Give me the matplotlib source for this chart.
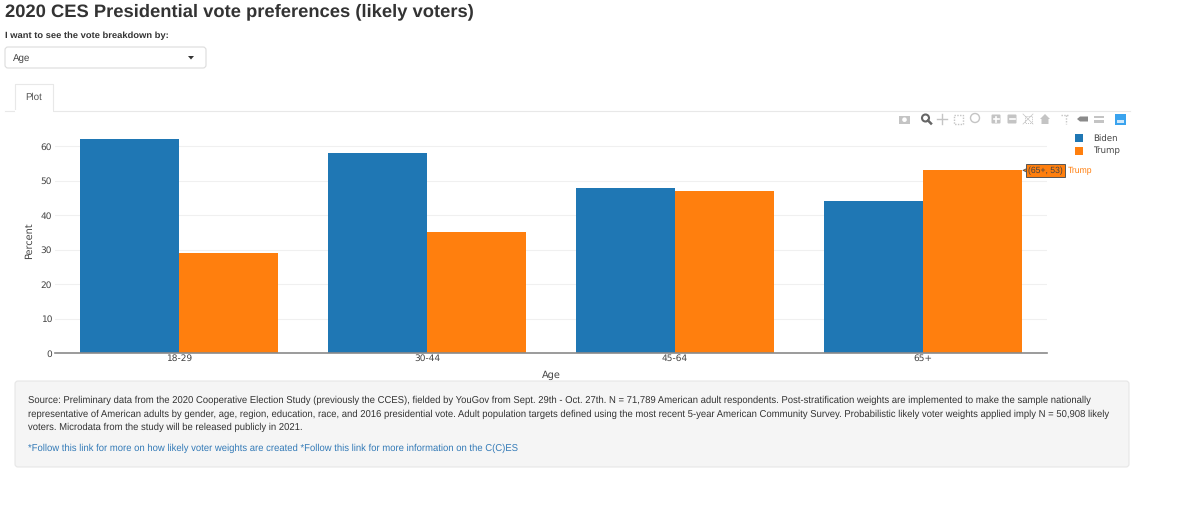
import matplotlib
matplotlib.use("Agg")
import matplotlib.pyplot as plt
from matplotlib.patches import Rectangle, FancyBboxPatch, Polygon, Circle
import numpy as np

plt.rcParams["text.hinting"] = "no_hinting"

W, H = 1200, 523

ages = ["18-29", "30-44", "45-64", "65+"]
biden = [62, 58, 48, 44]
trump = [29, 35, 47, 53]
y_ticks = [0, 10, 20, 30, 40, 50, 60]

title = "2020 CES Presidential vote preferences (likely voters)"
source_lines = [
    "Source: Preliminary data from the 2020 Cooperative Election Study (previously the CCES), fielded by YouGov from Sept. 29th - Oct. 27th. N = 71,789 American adult respondents. Post-stratification weights are implemented to make the sample nationally",
    "representative of American adults by gender, age, region, education, race, and 2016 presidential vote. Adult population targets defined using the most recent 5-year American Community Survey. Probabilistic likely voter weights applied imply N = 50,908 likely",
    "voters. Microdata from the study will be released publicly in 2021.",
]
link_text = "*Follow this link for more on how likely voter weights are created *Follow this link for more information on the C(C)ES"

BLUE = "#1f77b4"
ORANGE = "#ff7f0e"
UI_FONT = "Liberation Sans"
PLOT_FONT = "DejaVu Sans"

fig = plt.figure(figsize=(W / 100, H / 100), dpi=100, facecolor="white")

# page layer in pixel coordinates, y going down like the screenshot
page = fig.add_axes([0, 0, 1, 1])
page.set_xlim(0, W)
page.set_ylim(H, 0)
page.axis("off")

page.text(5, 12, title, fontsize=13.2, family=UI_FONT, weight="bold", color="#333333", va="center")
page.text(5, 36, "I want to see the vote breakdown by:", fontsize=6.75, family=UI_FONT, weight="bold", color="#333333", va="center")

# dropdown
page.add_patch(FancyBboxPatch((5, 47), 201, 21, boxstyle="round,pad=0,rounding_size=3", fc="white", ec="#dcdcdc", lw=0.8))
page.text(13, 58, "Age", fontsize=7.0, family=UI_FONT, color="#444444", va="center")
page.add_patch(Polygon([[188, 56], [194, 56], [191, 59.5]], fc="#333333", ec="none"))

# tab
page.plot([5, 15, 15, 53, 53, 1130], [110.5, 110.5, 84, 84, 110.5, 110.5], color="#e8e8e8", lw=0.8)
page.plot([16, 52], [110.5, 110.5], color="white", lw=1.5)
page.text(34, 97, "Plot", fontsize=7.0, family=UI_FONT, color="#555555", ha="center", va="center")

# modebar
GREY = "#c4c4c4"
page.add_patch(Rectangle((899, 116), 11, 7.5, fc=GREY, ec="none"))
page.add_patch(Circle((904.5, 119.7), 2.3, fc="white", ec="none"))
page.add_patch(Circle((925.5, 118), 3.5, fc="white", ec="#666666", lw=1.5))
page.plot([928, 931], [120.5, 123.5], color="#666666", lw=1.8)
page.plot([937, 947], [119, 119], color=GREY, lw=1)
page.plot([942, 942], [114, 124], color=GREY, lw=1)
page.add_patch(Rectangle((953.5, 114.5), 9.5, 9.5, fc="none", ec=GREY, lw=1, ls=(0, (1, 1))))
page.add_patch(Circle((975, 118), 4.5, fc="none", ec=GREY, lw=1))
for x0, sign in [(996, "+"), (1012, "-")]:
    page.add_patch(FancyBboxPatch((x0 - 4.5, 114.5), 9, 9, boxstyle="round,pad=0,rounding_size=1", fc=GREY, ec="none"))
    page.plot([x0 - 2.5, x0 + 2.5], [119, 119], color="white", lw=1.2)
    if sign == "+":
        page.plot([x0, x0], [116.5, 121.5], color="white", lw=1.2)
page.add_patch(Rectangle((1024.5, 115.5), 7, 7, fc="none", ec=GREY, lw=0.7, ls=(0, (1, 1))))
page.plot([1023, 1033], [114, 124], color=GREY, lw=0.5)
page.plot([1023, 1033], [124, 114], color=GREY, lw=0.5)
page.add_patch(Polygon([[1040, 119], [1045, 114], [1050, 119], [1048.5, 119], [1048.5, 124], [1041.5, 124], [1041.5, 119]], fc=GREY, ec="none"))
page.plot([1061, 1069], [115, 115], color=GREY, lw=1, ls=(0, (1, 1)))
page.plot([1066, 1066], [115, 124], color=GREY, lw=1, ls=(0, (1, 1)))
page.add_patch(Polygon([[1077, 119], [1080, 116.5], [1088, 116.5], [1088, 121.5], [1080, 121.5]], fc="#8a8a8a", ec="none"))
page.add_patch(Rectangle((1094, 115.5), 10, 2.8, fc=GREY, ec="none"))
page.add_patch(Rectangle((1094, 120), 10, 2.8, fc=GREY, ec="none"))
page.add_patch(Rectangle((1115, 114), 10.5, 10.5, fc="#3aa3ee", ec="none"))
page.add_patch(Rectangle((1117, 120), 6.5, 2.5, fc="#cfe8fb", ec="none"))

# note box
page.add_patch(FancyBboxPatch((15, 381), 1114, 86, boxstyle="round,pad=0,rounding_size=3", fc="#f5f5f5", ec="#e6e6e6", lw=0.8))
for i, line in enumerate(source_lines):
    page.text(28, 400.5 + i * 13.5, line, fontsize=6.87, family=UI_FONT, color="#333333", va="center")
page.text(28, 448, link_text, fontsize=6.87, family=UI_FONT, color="#337ab7", va="center")

# chart
ax = fig.add_axes([55 / W, 1 - 353 / H, (1047 - 55) / W, (353 - 129) / H])
ax.patch.set_alpha(0)
x = np.arange(len(ages))
ax.bar(x - 0.2, biden, width=0.4, color=BLUE, label="Biden")
ax.bar(x + 0.2, trump, width=0.4, color=ORANGE, label="Trump")
ax.set_xlim(-0.5, 3.5)
ax.set_ylim(0, 65)
ax.set_xticks(x, ages)
ax.set_yticks(y_ticks)
ax.set_axisbelow(True)
ax.grid(axis="y", color="#f0f0f0", lw=0.8)
for side in ["top", "right", "left"]:
    ax.spines[side].set_visible(False)
ax.spines["bottom"].set_color("#8a8a8a")
ax.spines["bottom"].set_linewidth(1.2)
ax.tick_params(axis="x", length=0, pad=1, labelsize=6.5, labelcolor="#444444", labelfontfamily=PLOT_FONT)
ax.tick_params(axis="y", length=0, pad=2, labelsize=6.5, labelcolor="#444444", labelfontfamily=PLOT_FONT)
ax.set_xlabel("Age", fontsize=7.0, color="#444444", family=PLOT_FONT, labelpad=5)
ax.set_ylabel("Percent", fontsize=7.0, color="#444444", family=PLOT_FONT, labelpad=5)

# hover label on the last Trump bar
tip_x = x[-1] + 0.4
tip_y = trump[-1]
ax.annotate("", xy=(tip_x, tip_y), xytext=(4, 0), textcoords="offset pixels", annotation_clip=False,
            arrowprops=dict(arrowstyle="-|>", mutation_scale=6, fc=ORANGE, ec="#555555", lw=0.6, shrinkA=0, shrinkB=0))
ax.annotate("(65+, 53)", xy=(tip_x, tip_y), xytext=(6, 0), textcoords="offset pixels",
            fontsize=6.2, family=UI_FONT, color="#444444", va="center", ha="left", annotation_clip=False,
            bbox=dict(boxstyle="square,pad=0.25", fc=ORANGE, ec="#555555", lw=0.7))
ax.annotate("Trump", xy=(tip_x, tip_y), xytext=(46, 0), textcoords="offset pixels",
            fontsize=6.2, family=UI_FONT, color=ORANGE, va="center", annotation_clip=False)

# legend
page.add_patch(Rectangle((1075, 134), 8, 8, fc=BLUE, ec="none"))
page.add_patch(Rectangle((1075, 146.5), 8, 8, fc=ORANGE, ec="none"))
page.text(1093, 138, "Biden", fontsize=6.2, family=PLOT_FONT, color="#444444", va="center")
page.text(1093, 150.5, "Trump", fontsize=6.2, family=PLOT_FONT, color="#444444", va="center")

fig.savefig("out.png", dpi=100)
